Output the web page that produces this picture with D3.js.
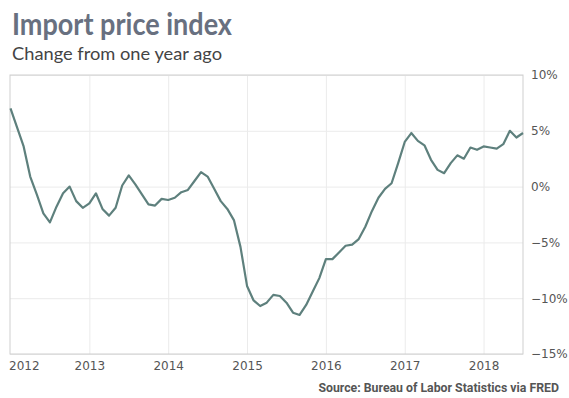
<!DOCTYPE html>
<html>
<head>
<meta charset="utf-8">
<script src="https://cdn.jsdelivr.net/npm/d3@7"></script>
<style>
    body { margin: 0; background: #fff; }
    .chart text { font-family: "DejaVu Sans", sans-serif; }
    .grid line { stroke: #ebebeb; }
    .grid path { display: none; }
</style>
</head>
<body>
<div class="chart"></div>
<script>
// monthly year-over-year change, Jan 2012 .. Jul 2018
const startYear = 2012;
const values = [
    7.0, 5.3, 3.6, 0.9, -0.7, -2.4, -3.2, -1.8, -0.6, 0.0, -1.3, -1.9,
    -1.5, -0.6, -2.0, -2.6, -1.9, 0.1, 1.0, 0.2, -0.7, -1.6, -1.7, -1.1,
    -1.2, -1.0, -0.5, -0.3, 0.5, 1.3, 0.9, -0.2, -1.3, -2.0, -3.0, -5.4,
    -8.9, -10.2, -10.7, -10.4, -9.7, -9.8, -10.4, -11.3, -11.5, -10.6, -9.4, -8.2,
    -6.5, -6.5, -5.9, -5.3, -5.2, -4.7, -3.6, -2.2, -1.0, -0.2, 0.3, 2.1,
    4.0, 4.8, 4.1, 3.7, 2.4, 1.5, 1.2, 2.1, 2.8, 2.5, 3.5, 3.3,
    3.6, 3.5, 3.4, 3.8, 5.0, 4.4, 4.8
];
const yearTicks = [2012, 2013, 2014, 2015, 2016, 2017, 2018];
const pctTicks = [10, 5, 0, -5, -10, -15];

const title = 'Import price index';
const subtitle = 'Change from one year ago';
const source = 'Source: Bureau of Labor Statistics via FRED';

const outerWidth = 569, outerHeight = 398;
const margin = {top: 75, right: 46, bottom: 44, left: 10};
const width = outerWidth - margin.left - margin.right;
const height = outerHeight - margin.top - margin.bottom;

const svg = d3.select('.chart').append('svg')
    .attr('width', outerWidth)
    .attr('height', outerHeight);

svg.append('text')
    .attr('x', 12).attr('y', 35)
    .attr('textLength', 220).attr('lengthAdjust', 'spacingAndGlyphs')
    .style('font-family', 'Lato, sans-serif')
    .style('font-weight', 700)
    .style('font-size', '30px')
    .style('fill', '#687080')
    .text(title);

svg.append('text')
    .attr('x', 12).attr('y', 60)
    .attr('textLength', 210).attr('lengthAdjust', 'spacingAndGlyphs')
    .style('font-family', 'Lato, sans-serif')
    .style('font-size', '18px')
    .style('fill', '#444')
    .text(subtitle);

const g = svg.append('g')
    .attr('transform', 'translate(' + margin.left + ',' + margin.top + ')');

const data = values.map((v, i) => ({t: startYear + i / 12, v: v}));

let x = d3.scaleLinear()
    .domain([startYear, data[data.length - 1].t])
    .range([0.5, width]);
let y = d3.scaleLinear()
    .domain([-15, 10])
    .range([height, 0]);

// grid lines
g.append('g')
    .attr('class', 'grid')
    .call(d3.axisBottom(x).tickValues(yearTicks.slice(1)).tickSize(height).tickFormat(''));
g.append('g')
    .attr('class', 'grid')
    .call(d3.axisLeft(y).tickValues(pctTicks).tickSize(-width).tickFormat(''));

// plot frame
g.append('rect')
    .attr('x', 0).attr('y', 0)
    .attr('width', width).attr('height', height)
    .attr('fill', 'none')
    .attr('stroke', '#cfcfcf');

// line
const line = d3.line()
    .x(d => x(d.t))
    .y(d => y(d.v));
g.append('path')
    .datum(data)
    .attr('d', line)
    .attr('fill', 'none')
    .attr('stroke', '#5e807d')
    .attr('stroke-width', 2.2)
    .attr('stroke-linejoin', 'round');

// x axis
const xAxis = g.append('g')
    .attr('transform', 'translate(0,' + height + ')')
    .call(d3.axisBottom(x).tickValues(yearTicks).tickSize(0).tickPadding(7).tickFormat(d3.format('d')));
xAxis.select('.domain').remove();
xAxis.selectAll('text')
    .style('font-size', '12px')
    .style('fill', '#555')
    .filter(d => d === startYear)
    .attr('text-anchor', 'start')
    .attr('x', -2);

// y axis on the right
const yAxis = g.append('g')
    .attr('transform', 'translate(' + width + ',0)')
    .call(d3.axisRight(y).tickValues(pctTicks).tickSize(0).tickPadding(8).tickFormat(d => d3.format('d')(d) + '%'));
yAxis.select('.domain').remove();
yAxis.selectAll('text')
    .style('font-size', '12px')
    .style('fill', '#555');

svg.append('text')
    .attr('x', 559).attr('y', 392)
    .attr('text-anchor', 'end')
    .style('font-family', 'Roboto, sans-serif')
    .style('font-weight', 700)
    .style('font-size', '12.3px')
    .style('fill', '#555')
    .text(source);
</script>
</body>
</html>
